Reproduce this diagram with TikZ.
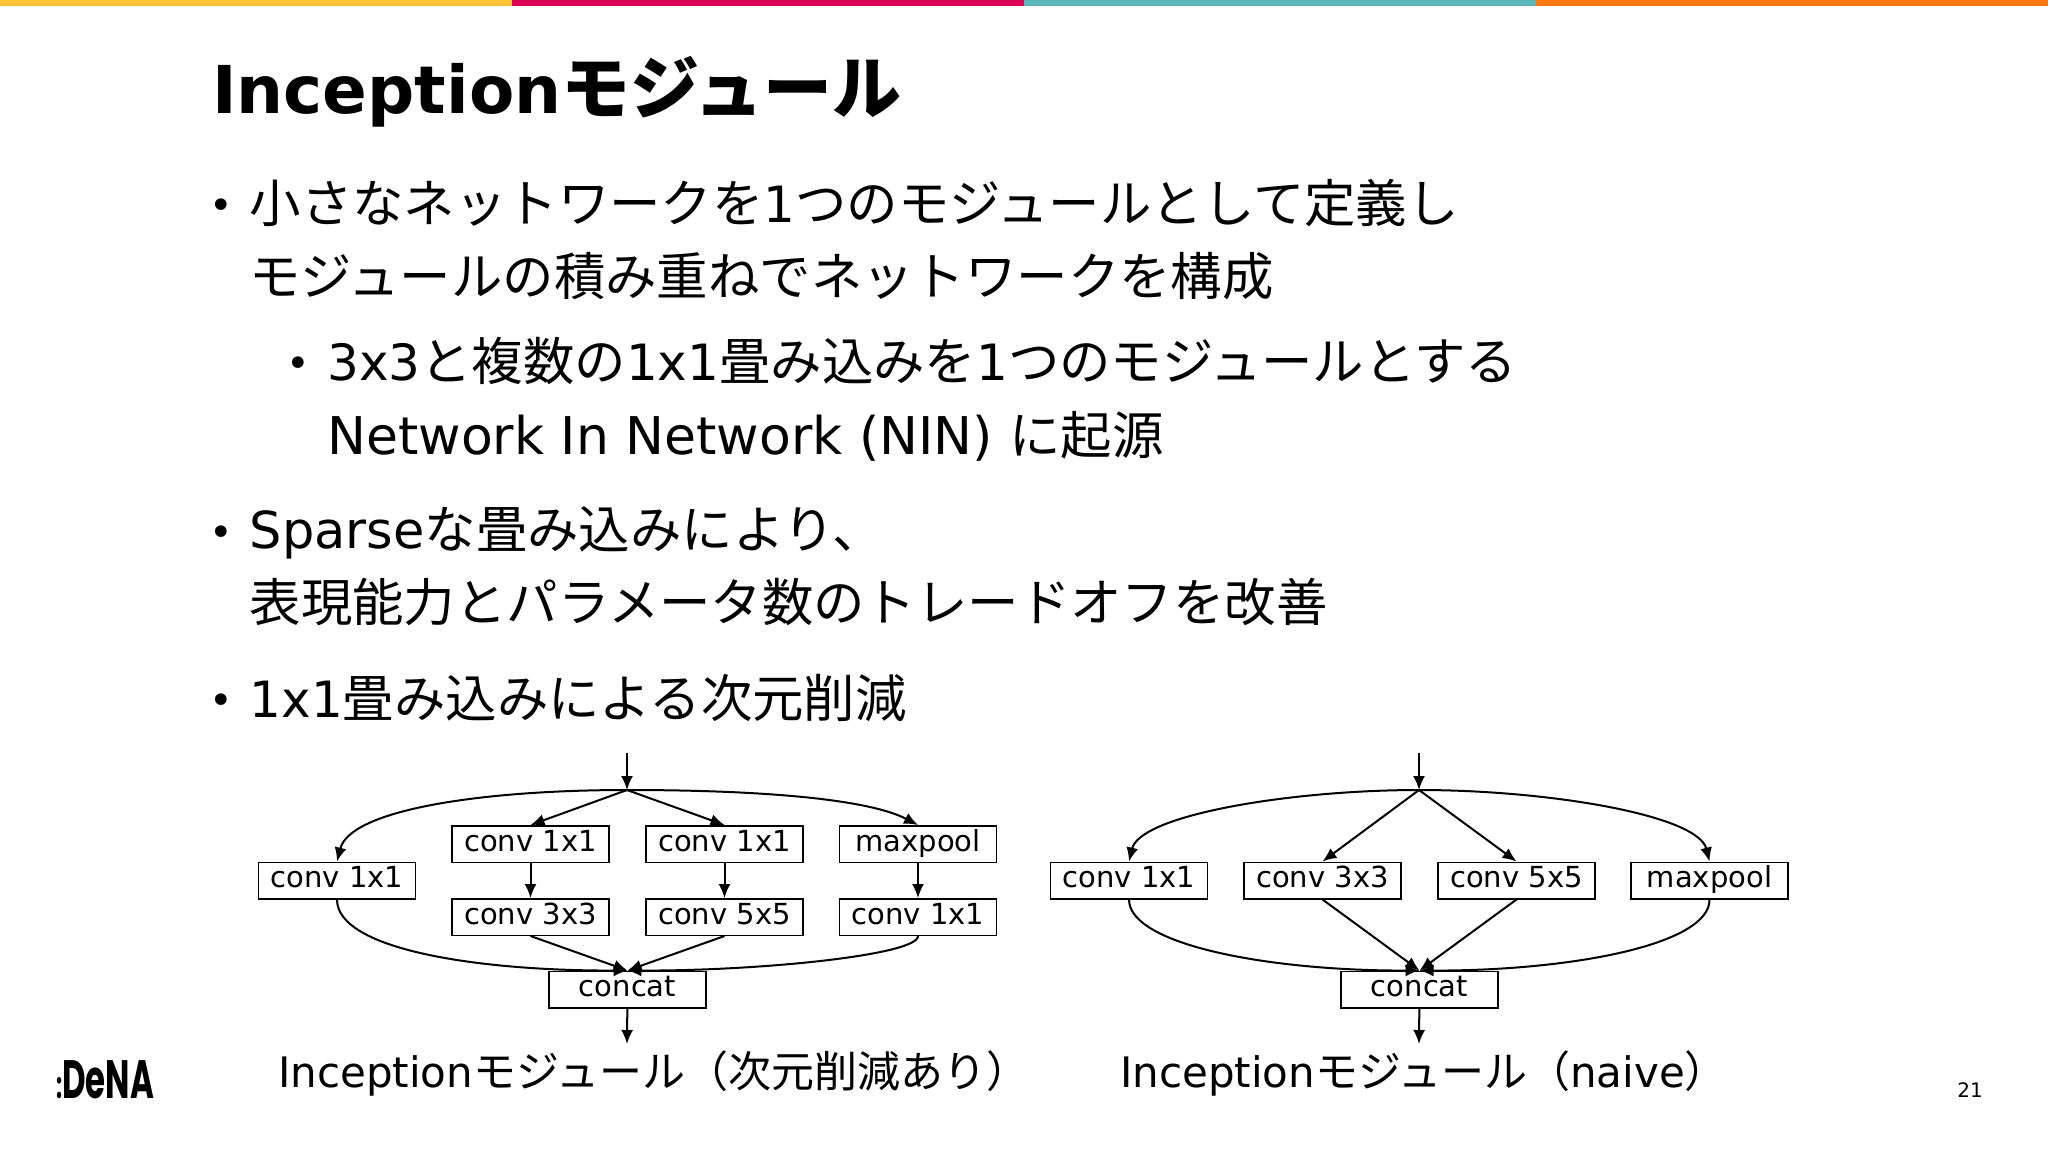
\documentclass[tikz,border=0pt]{standalone}
\usepackage{fontspec}
\usetikzlibrary{arrows.meta}
\setmainfont{DejaVu Sans}
\newfontfamily\jpf{Noto Sans CJK JP}
\newfontfamily\logof{Poppins}
\newcommand\jp[1]{{\jpf\fontsize{51.4}{60}\selectfont #1}}
\newcommand\jpcap[1]{{\jpf\fontsize{43}{50}\selectfont #1}}
\newcommand\jptitle[1]{{\jpf\fontsize{69}{70}\selectfont\bfseries #1}}
\definecolor{baryellow}{HTML}{FFC533}
\definecolor{barred}{HTML}{DC0055}
\definecolor{barteal}{HTML}{5BB8B8}
\definecolor{barorange}{HTML}{FF7A0F}
\tikzset{
  titletext/.style={anchor=base west,inner sep=0pt,font=\fontsize{66}{70}\selectfont\bfseries},
  bodytext/.style={anchor=base west,inner sep=0pt,font=\fontsize{50}{60}\selectfont},
  wordtext/.style={anchor=base west,inner sep=0pt,font=\fontsize{52}{60}\selectfont},
  sparsetext/.style={anchor=base west,inner sep=0pt,font=\fontsize{51}{60}\selectfont},
  bullettext/.style={anchor=base west,inner sep=0pt,font=\fontsize{40}{60}\selectfont},
  captext/.style={anchor=base west,inner sep=0pt,font=\fontsize{42}{50}\selectfont},
  modbox/.style={draw=black,line width=1.5pt,fill=white,minimum width=157pt,minimum height=36.5pt,inner sep=0pt,text height=21pt,text depth=6.5pt,font=\fontsize{29}{32}\selectfont},
  conn/.style={draw=black,line width=2pt,-{Latex[length=14pt,width=12pt]}}
}
\begin{document}
\begin{tikzpicture}[x=1pt,y=-1pt]
\useasboundingbox (0,0) rectangle (2048,1152);
\fill[baryellow] (0,0) rectangle (512,6);
\fill[barred] (512,0) rectangle (1024,6);
\fill[barteal] (1024,0) rectangle (1536,6);
\fill[barorange] (1536,0) rectangle (2048,6);

\node[titletext] (title) at (212,113) {Inception\jptitle{モジュール}};

\node[bullettext] (b1) at (209,219) {•};
\node[bodytext] (l1) at (249.5,222) {\jp{小さなネットワークを}1\jp{つのモジュールとして定義し}};
\node[bodytext] (l2) at (249,295) {\jp{モジュールの積み重ねでネットワークを構成}};
\node[bullettext] (b2) at (286,377) {•};
\node[bodytext] (l3) at (327,380) {3x3\jp{と複数の}1x1\jp{畳み込みを}1\jp{つのモジュールとする}};
\node[wordtext] (l4) at (327,454) {Network In Network (NIN) \jp{に起源}};
\node[bullettext] (b3) at (209,546) {•};
\node[sparsetext] (l5) at (249.5,548) {Sparse\jp{な畳み込みにより、}};
\node[bodytext] (l6) at (249.5,621) {\jp{表現能力とパラメータ数のトレードオフを改善}};
\node[bullettext] (b4) at (209,714) {•};
\node[bodytext] (l7) at (249.5,717) {1x1\jp{畳み込みによる次元削減}};

% left diagram
\coordinate (ltop) at (627,753);
\coordinate (lhub) at (627,790);
\coordinate (lend) at (627,1044);
\node[modbox] (la) at (337,880.5) {conv 1x1};
\node[modbox] (lb1) at (530.5,844) {conv 1x1};
\node[modbox] (lb2) at (530.5,917) {conv 3x3};
\node[modbox] (lc1) at (724.5,844) {conv 1x1};
\node[modbox] (lc2) at (724.5,917) {conv 5x5};
\node[modbox] (ld1) at (918,844) {maxpool};
\node[modbox] (ld2) at (918,917) {conv 1x1};
\node[modbox] (lcat) at (627.5,989.5) {concat};
\draw[conn] (ltop) -- (lhub);
\draw[conn] (lhub) .. controls (480,790) and (350,810) .. (la.north);
\draw[conn] (lhub) -- (lb1.north);
\draw[conn] (lhub) -- (lc1.north);
\draw[conn] (lhub) .. controls (770,790) and (870,800) .. (ld1.north);
\draw[conn] (lb1) -- (lb2);
\draw[conn] (lc1) -- (lc2);
\draw[conn] (ld1) -- (ld2);
\draw[conn] (la.south) .. controls (337,950) and (480,971) .. (lcat.north);
\draw[conn] (lb2.south) -- (lcat.north);
\draw[conn] (lc2.south) -- (lcat.north);
\draw[conn] (ld2.south) .. controls (918,955) and (760,971) .. (lcat.north);
\draw[conn] (lcat) -- (lend);
\node[captext] (capl) at (278,1087) {Inception\jpcap{モジュール（次元削減あり）}};

% right diagram
\coordinate (rtop) at (1419,753);
\coordinate (rhub) at (1419,790);
\coordinate (rend) at (1419,1044);
\node[modbox] (ra) at (1129,880.5) {conv 1x1};
\node[modbox] (rb) at (1322.5,880.5) {conv 3x3};
\node[modbox] (rc) at (1516.5,880.5) {conv 5x5};
\node[modbox] (rd) at (1709.5,880.5) {maxpool};
\node[modbox] (rcat) at (1419.5,989.5) {concat};
\draw[conn] (rtop) -- (rhub);
\draw[conn] (rhub) .. controls (1290,790) and (1140,815) .. (ra.north);
\draw[conn] (rhub) -- (rb.north);
\draw[conn] (rhub) -- (rc.north);
\draw[conn] (rhub) .. controls (1548,790) and (1698,815) .. (rd.north);
\draw[conn] (ra.south) .. controls (1129,945) and (1270,971) .. (rcat.north);
\draw[conn] (rb.south) -- (rcat.north);
\draw[conn] (rc.south) -- (rcat.north);
\draw[conn] (rd.south) .. controls (1710,945) and (1569,971) .. (rcat.north);
\draw[conn] (rcat) -- (rend);
\node[captext] (capr) at (1120,1087) {Inception\jpcap{モジュール（}naive\jpcap{）}};

% footer
\node[anchor=base west,inner sep=0pt,font=\logof\fontsize{54}{54}\selectfont\bfseries,xscale=0.6] (logo) at (56,1098) {{\fontsize{36}{36}\selectfont :}DeNA};
\node[anchor=base,inner sep=0pt,font=\fontsize{20}{20}\selectfont] (pageno) at (1970,1097) {21};
\end{tikzpicture}
\end{document}
